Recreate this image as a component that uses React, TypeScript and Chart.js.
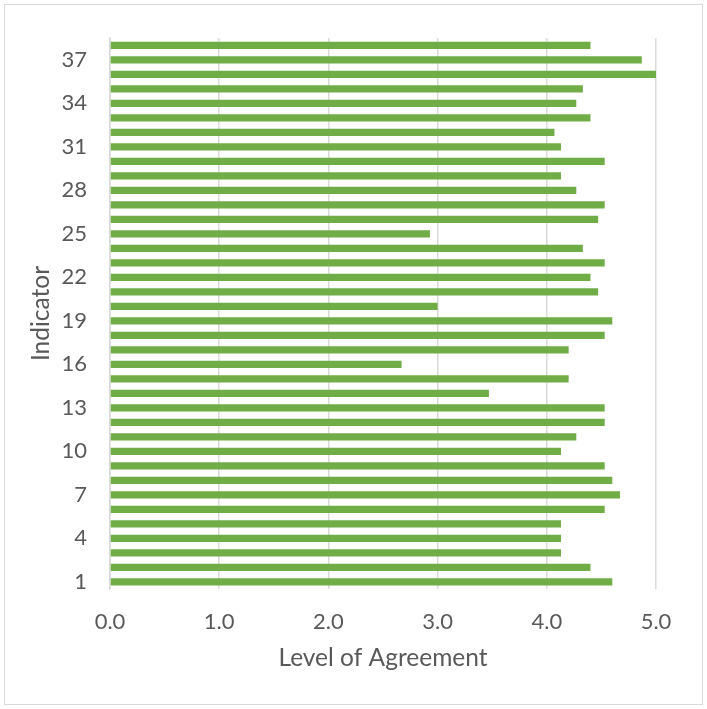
import React, { useEffect, useRef } from "react";
import { Chart, registerables } from "chart.js";

Chart.register(...registerables);

// Indicator numbers 1..38 (bottom to top)
const indicators: string[] = Array.from({ length: 38 }, (_, i) => String(i + 1));

// Mean level of agreement for each indicator, 1..38
const agreement: number[] = [
  4.6, 4.4, 4.13, 4.13, 4.13, 4.53, 4.67, 4.6, 4.53, 4.13,
  4.27, 4.53, 4.53, 3.47, 4.2, 2.67, 4.2, 4.53, 4.6, 3.0,
  4.47, 4.4, 4.53, 4.33, 2.93, 4.47, 4.53, 4.27, 4.13, 4.53,
  4.13, 4.07, 4.4, 4.27, 4.33, 5.0, 4.87, 4.4,
];

const xTicks: number[] = [0, 1, 2, 3, 4, 5];

const FONT = "Lato, 'Open Sans', sans-serif";
const TEXT = "#595959";
const GRID = "#d9d9d9";
const BAR = "#70AD47";

export default function App() {
  const canvasRef = useRef<HTMLCanvasElement | null>(null);

  useEffect(() => {
    if (!canvasRef.current) return;
    const chart = new Chart(canvasRef.current, {
      type: "bar",
      data: {
        labels: indicators,
        datasets: [
          {
            data: agreement,
            backgroundColor: BAR,
            borderWidth: 0,
            categoryPercentage: 1,
            barPercentage: 0.5,
          },
        ],
      },
      options: {
        indexAxis: "y",
        animation: false,
        responsive: false,
        maintainAspectRatio: false,
        layout: { padding: { top: 38, right: 51, left: 0, bottom: 0 } },
        plugins: {
          legend: { display: false },
          tooltip: { enabled: false },
        },
        scales: {
          x: {
            type: "linear",
            min: 0,
            max: 5,
            afterBuildTicks: (scale: any) => {
              scale.ticks = xTicks.map((v) => ({ value: v }));
            },
            afterFit: (scale: any) => {
              scale.height = 120;
            },
            grid: {
              color: GRID,
              lineWidth: 1.5,
              drawTicks: false,
            },
            border: { display: false },
            ticks: {
              padding: 20,
              color: TEXT,
              font: { family: FONT, size: 22 },
              callback: (v: any) => Number(v).toFixed(1),
            },
            title: {
              display: true,
              text: "Level of Agreement",
              color: TEXT,
              font: { family: FONT, size: 24.5 },
              padding: { top: 0, bottom: 36 },
            },
          },
          y: {
            type: "category",
            reverse: true,
            afterFit: (scale: any) => {
              scale.width = 110;
            },
            grid: { display: false, drawTicks: false },
            border: { display: true, color: GRID, width: 1.5 },
            ticks: {
              autoSkip: false,
              padding: 23,
              color: TEXT,
              font: { family: FONT, size: 22 },
              callback: (_v: any, i: number) => (i % 3 === 0 ? indicators[i] : null),
            },
            title: {
              display: true,
              text: "Indicator",
              color: TEXT,
              font: { family: FONT, size: 24.5 },
              padding: { top: 26, bottom: 0 },
            },
          },
        },
      },
    });
    return () => chart.destroy();
  }, []);

  return (
    <div style={{ position: "fixed", left: 0, top: 0, width: 707, height: 709, background: "#fff" }}>
      <div
        style={{
          position: "absolute",
          left: 4,
          top: 4,
          width: 697,
          height: 699,
          border: "1.5px solid #d9d9d9",
        }}
      />
      <canvas ref={canvasRef} width={707} height={709} style={{ position: "absolute", left: 0, top: 0 }} />
    </div>
  );
}
